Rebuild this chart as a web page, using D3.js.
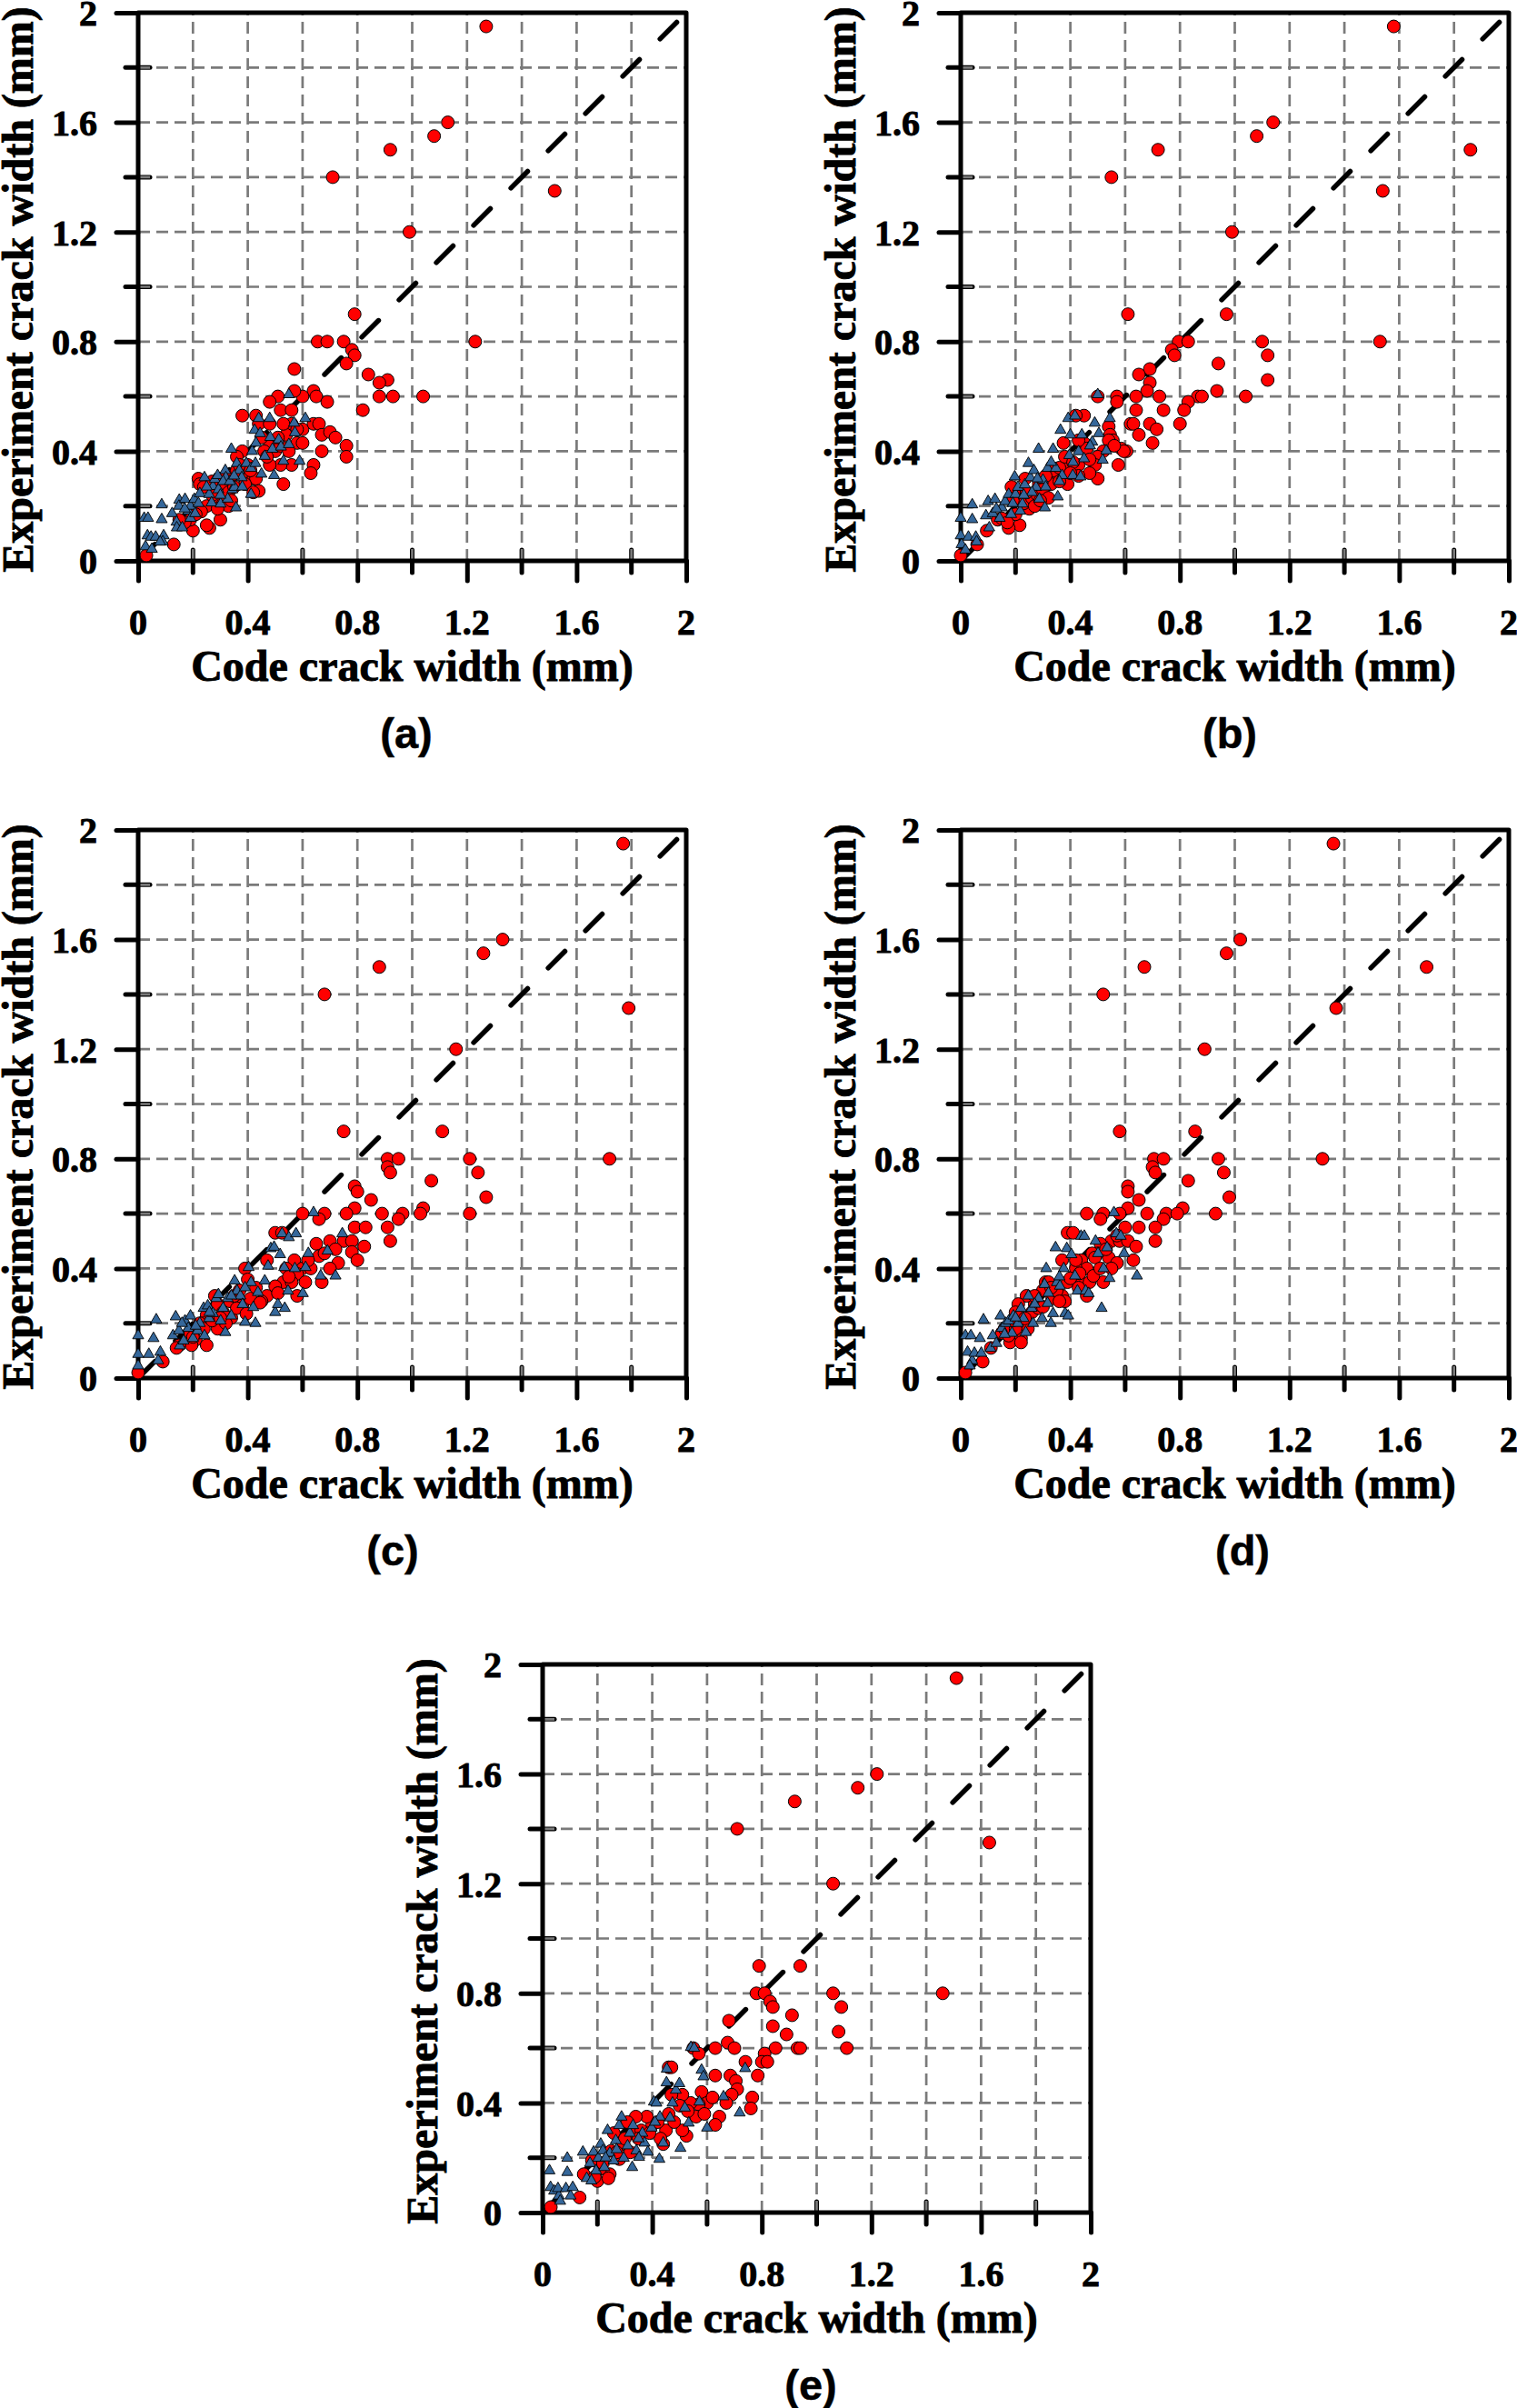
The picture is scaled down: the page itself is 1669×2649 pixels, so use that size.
<!DOCTYPE html>
<html><head><meta charset="utf-8">
<script src="https://cdn.jsdelivr.net/npm/d3@7"></script>
<style>body{margin:0;background:#fff}svg{display:block}</style>
</head><body>
<script>
// ---- data (code crack width, experiment crack width) in mm ----
const majorTicks = [0, 0.4, 0.8, 1.2, 1.6, 2];
const minorTicks = [0.2, 0.6, 1.0, 1.4, 1.8];
const gridValues = [0.2, 0.4, 0.6, 0.8, 1.0, 1.2, 1.4, 1.6, 1.8];
const panelLabels = ["(a)", "(b)", "(c)", "(d)", "(e)"];
const xTitle = "Code crack width (mm)";
const yTitle = "Experiment crack width (mm)";

const redA = [[1.27,1.95],[1.13,1.60],[1.08,1.55],[0.92,1.50],[0.71,1.40],[1.52,1.35],[0.99,1.20],[1.23,0.80],[0.79,0.90],
[0.655,0.80],[0.69,0.80],[0.75,0.80],[0.78,0.77],[0.79,0.75],[0.76,0.72],[0.57,0.70],[0.84,0.68],[0.91,0.66],[0.88,0.65],[0.88,0.60],[0.93,0.60],[1.04,0.60],[0.82,0.55],[0.76,0.42],[0.76,0.38],
[0.64,0.62],[0.65,0.60],[0.69,0.58],[0.51,0.60],[0.60,0.60],[0.57,0.62],[0.48,0.58],[0.52,0.55],[0.56,0.55],[0.38,0.53],[0.43,0.53],[0.44,0.50],[0.48,0.50],[0.56,0.50],[0.60,0.48],[0.64,0.50],[0.66,0.50],[0.67,0.46],[0.70,0.47],[0.72,0.45],[0.58,0.43],[0.60,0.43],[0.67,0.40],[0.64,0.35],[0.63,0.32],[0.56,0.35],[0.53,0.28],[0.52,0.35],[0.48,0.35],[0.48,0.42],[0.38,0.40],[0.38,0.31],[0.42,0.30],[0.43,0.30],[0.39,0.28],[0.44,0.255],[0.36,0.38],[0.34,0.31],[0.29,0.26],[0.30,0.15],[0.26,0.12],[0.25,0.13],[0.20,0.11],[0.22,0.30],[0.225,0.28],[0.13,0.06],[0.03,0.02],
[0.30,0.30],[0.32,0.28],[0.28,0.22],[0.25,0.20],[0.27,0.24],[0.33,0.25],[0.35,0.27],[0.31,0.21],[0.23,0.18],[0.19,0.15],[0.17,0.14],[0.15,0.15],[0.21,0.17],[0.36,0.33],[0.40,0.35],[0.46,0.40],[0.50,0.40],[0.52,0.42],[0.45,0.45],[0.54,0.46],[0.55,0.40],[0.42,0.25],[0.33,0.20],
[0.24,0.27],[0.27,0.29],[0.29,0.19],[0.34,0.22],[0.37,0.35],[0.41,0.33],[0.47,0.38],[0.51,0.45],[0.53,0.50],[0.58,0.48]];

const blueA = [[0.022,0.156],[0.036,0.156],[0.034,0.092],[0.047,0.087],[0.027,0.052],[0.05,0.043],[0.064,0.087],[0.086,0.205],[0.086,0.151],[0.093,0.092],[0.09,0.07],[0.08,0.069],[0.124,0.173],[0.14,0.142],[0.15,0.222],[0.149,0.2],[0.171,0.225],[0.141,0.121],[0.161,0.121],[0.183,0.182],[0.191,0.2],[0.191,0.156],[0.205,0.225],[0.208,0.173],[0.225,0.246],[0.242,0.304],[0.259,0.243],[0.268,0.212],[0.273,0.272],[0.28,0.298],[0.293,0.26],[0.301,0.208],[0.318,0.33],[0.32,0.304],[0.327,0.226],[0.34,0.408],[0.344,0.26],[0.352,0.269],[0.357,0.194],[0.36,0.356],[0.369,0.33],[0.378,0.304],[0.395,0.356],[0.412,0.243],[0.412,0.338],[0.416,0.4],[0.425,0.477],[0.428,0.356],[0.44,0.52],[0.445,0.465],[0.45,0.317],[0.462,0.382],[0.48,0.52],[0.482,0.451],[0.49,0.408],[0.496,0.312],[0.513,0.442],[0.521,0.416],[0.53,0.364],[0.55,0.607],[0.55,0.425],[0.569,0.503],[0.572,0.468],[0.589,0.364],[0.61,0.52],[0.29,0.312],[0.31,0.29],[0.335,0.29],
[0.17,0.19],[0.22,0.21],[0.25,0.27],[0.3,0.24],[0.35,0.31],[0.38,0.27],[0.43,0.43]];

const redB = [[1.58,1.95],[1.14,1.60],[1.08,1.55],[0.72,1.50],[1.86,1.50],[0.55,1.40],[1.54,1.35],[0.99,1.20],[0.61,0.90],[0.97,0.90],[1.53,0.80],[1.10,0.80],[0.795,0.80],[0.83,0.80],[0.77,0.77],[0.78,0.75],[1.12,0.75],[0.94,0.72],[0.69,0.70],[0.65,0.68],[0.69,0.65],[1.12,0.66],[0.68,0.62],[0.935,0.62],[0.64,0.60],[0.725,0.60],[0.57,0.60],[0.50,0.60],[1.04,0.60],[0.865,0.60],[0.88,0.60],[0.83,0.58],[0.57,0.58],[0.64,0.55],[0.74,0.55],[0.815,0.55],[0.62,0.50],[0.63,0.50],[0.69,0.50],[0.80,0.50],[0.715,0.48],[0.65,0.46],[0.70,0.43],[0.54,0.49],[0.545,0.46],[0.555,0.44],[0.54,0.44],[0.585,0.41],[0.605,0.40],[0.595,0.40],[0.575,0.35],[0.56,0.42],[0.52,0.40],[0.50,0.38],[0.49,0.35],[0.50,0.30],[0.45,0.53],[0.42,0.53],[0.45,0.43],[0.46,0.41],[0.43,0.35],[0.39,0.35],[0.47,0.32],[0.43,0.31],[0.39,0.28],[0.375,0.43],[0.34,0.29],[0.325,0.31],[0.285,0.28],[0.235,0.30],[0.25,0.19],[0.215,0.13],[0.175,0.12],[0.185,0.27],[0.095,0.11],[0.06,0.06],[0.0,0.02],[0.135,0.15],[0.15,0.155],
[0.21,0.24],[0.23,0.21],[0.26,0.23],[0.28,0.24],[0.30,0.26],[0.33,0.28],[0.34,0.33],[0.36,0.34],[0.20,0.17],[0.17,0.14],[0.32,0.23],[0.38,0.38],[0.41,0.36],[0.43,0.44],[0.27,0.20],[0.31,0.31],
[0.19,0.22],[0.24,0.25],[0.29,0.22],[0.36,0.29],[0.40,0.32],[0.47,0.37]];

const blueB = [[0.0,0.156],[0.0,0.092],[0.003,0.06],[0.017,0.04],[0.028,0.087],[0.042,0.205],[0.042,0.151],[0.055,0.087],[0.058,0.07],[0.092,0.165],[0.1,0.217],[0.104,0.121],[0.125,0.225],[0.117,0.173],[0.142,0.156],[0.15,0.194],[0.162,0.217],[0.175,0.243],[0.184,0.17],[0.197,0.307],[0.2,0.243],[0.209,0.269],[0.217,0.182],[0.225,0.208],[0.234,0.278],[0.247,0.356],[0.254,0.304],[0.267,0.33],[0.275,0.269],[0.284,0.408],[0.287,0.226],[0.3,0.295],[0.307,0.194],[0.317,0.338],[0.337,0.408],[0.347,0.338],[0.354,0.234],[0.364,0.477],[0.37,0.312],[0.392,0.52],[0.396,0.385],[0.4,0.46],[0.409,0.312],[0.417,0.529],[0.43,0.399],[0.437,0.307],[0.442,0.46],[0.45,0.373],[0.48,0.434],[0.489,0.503],[0.5,0.607],[0.504,0.465],[0.518,0.368],[0.531,0.402],[0.544,0.52],[0.472,0.42],[0.26,0.25],[0.31,0.27],
[0.13,0.19],[0.19,0.21],[0.23,0.24],[0.28,0.3],[0.33,0.36],[0.36,0.29],[0.41,0.36]];

const redC = [[1.77,1.95],[1.33,1.60],[1.26,1.55],[0.88,1.50],[0.68,1.40],[1.79,1.35],[1.16,1.20],[0.75,0.90],[1.11,0.90],[1.72,0.80],[1.21,0.80],[0.91,0.80],[0.95,0.80],[0.91,0.77],[0.92,0.75],[1.24,0.75],[1.07,0.72],[0.79,0.70],[0.80,0.68],[0.85,0.65],[1.27,0.66],[1.04,0.62],[1.03,0.60],[0.79,0.62],[0.76,0.60],[0.89,0.60],[0.965,0.60],[0.95,0.58],[1.21,0.60],[0.60,0.60],[0.68,0.60],[0.66,0.58],[0.79,0.55],[0.83,0.55],[0.91,0.55],[0.92,0.50],[0.70,0.50],[0.75,0.50],[0.78,0.50],[0.78,0.46],[0.825,0.48],[0.80,0.43],[0.73,0.42],[0.65,0.49],[0.50,0.53],[0.525,0.53],[0.47,0.43],[0.57,0.43],[0.60,0.40],[0.54,0.40],[0.58,0.38],[0.63,0.40],[0.67,0.35],[0.70,0.40],[0.66,0.445],[0.68,0.455],[0.53,0.35],[0.56,0.35],[0.61,0.35],[0.58,0.30],[0.47,0.30],[0.50,0.335],[0.45,0.28],[0.39,0.40],[0.40,0.36],[0.38,0.265],[0.41,0.29],[0.335,0.28],[0.28,0.30],[0.29,0.27],[0.25,0.23],[0.24,0.20],[0.21,0.14],[0.195,0.12],[0.25,0.12],[0.15,0.12],[0.14,0.11],[0.09,0.06],[0.0,0.02],[0.34,0.22],[0.29,0.18],[0.19,0.165],[0.225,0.20],
[0.24,0.18],[0.27,0.21],[0.31,0.24],[0.36,0.255],[0.395,0.235],[0.445,0.275],[0.51,0.31],[0.20,0.15],[0.32,0.20],[0.35,0.30],
[0.43,0.33],[0.55,0.37],[0.62,0.43],[0.72,0.47],[0.37,0.32],[0.30,0.22]];

const blueC = [[0.0,0.155],[0.0,0.087],[0.0,0.045],[0.039,0.087],[0.056,0.145],[0.066,0.213],[0.081,0.095],[0.073,0.064],[0.127,0.155],[0.137,0.224],[0.149,0.173],[0.152,0.118],[0.166,0.136],[0.171,0.209],[0.183,0.182],[0.191,0.227],[0.2,0.145],[0.217,0.173],[0.225,0.2],[0.239,0.255],[0.242,0.155],[0.254,0.264],[0.259,0.218],[0.273,0.236],[0.285,0.291],[0.293,0.305],[0.301,0.209],[0.31,0.255],[0.318,0.167],[0.327,0.291],[0.34,0.227],[0.352,0.355],[0.361,0.318],[0.373,0.3],[0.381,0.269],[0.39,0.204],[0.403,0.404],[0.412,0.349],[0.42,0.258],[0.428,0.2],[0.437,0.313],[0.462,0.355],[0.474,0.409],[0.484,0.473],[0.496,0.478],[0.5,0.24],[0.51,0.269],[0.518,0.451],[0.525,0.527],[0.533,0.404],[0.535,0.255],[0.547,0.318],[0.55,0.513],[0.572,0.4],[0.576,0.527],[0.601,0.309],[0.611,0.404],[0.621,0.455],[0.64,0.604],[0.666,0.373],[0.691,0.464],[0.72,0.373],[0.745,0.527],
[0.16,0.2],[0.21,0.19],[0.26,0.24],[0.34,0.3],[0.39,0.33]];

const redD = [[1.36,1.95],[1.02,1.60],[0.97,1.55],[0.67,1.50],[1.70,1.50],[0.52,1.40],[1.37,1.35],[0.89,1.20],[0.58,0.90],[0.855,0.90],[1.32,0.80],[0.94,0.80],[0.705,0.80],[0.74,0.80],[0.70,0.77],[0.71,0.75],[0.96,0.75],[0.83,0.72],[0.61,0.70],[0.61,0.68],[0.65,0.65],[0.98,0.66],[0.81,0.62],[0.61,0.62],[0.93,0.60],[0.46,0.60],[0.52,0.60],[0.58,0.60],[0.68,0.60],[0.75,0.60],[0.79,0.60],[0.74,0.58],[0.51,0.58],[0.60,0.55],[0.65,0.55],[0.71,0.55],[0.39,0.53],[0.41,0.53],[0.55,0.50],[0.58,0.50],[0.61,0.50],[0.71,0.50],[0.64,0.48],[0.63,0.43],[0.51,0.49],[0.50,0.455],[0.54,0.44],[0.57,0.42],[0.55,0.40],[0.52,0.35],[0.44,0.43],[0.48,0.455],[0.49,0.44],[0.46,0.40],[0.42,0.40],[0.42,0.43],[0.44,0.35],[0.47,0.35],[0.46,0.30],[0.39,0.35],[0.37,0.43],[0.37,0.30],[0.38,0.28],[0.31,0.35],[0.32,0.35],[0.30,0.32],[0.27,0.27],[0.26,0.24],[0.24,0.30],[0.21,0.27],[0.20,0.24],[0.22,0.145],[0.18,0.13],[0.22,0.13],[0.15,0.165],[0.11,0.11],[0.08,0.06],[0.017,0.02],[0.245,0.18],[0.175,0.155],[0.16,0.18],
[0.234,0.218],[0.284,0.255],[0.334,0.291],[0.35,0.318],[0.40,0.364],[0.434,0.382],[0.484,0.373],[0.509,0.40],[0.20,0.18],[0.30,0.26],[0.36,0.28],
[0.19,0.21],[0.27,0.30],[0.33,0.33],[0.43,0.33],[0.53,0.47],[0.57,0.52]];

const blueD = [[0.017,0.155],[0.037,0.155],[0.025,0.095],[0.042,0.064],[0.033,0.045],[0.05,0.091],[0.07,0.145],[0.083,0.213],[0.075,0.091],[0.109,0.109],[0.117,0.155],[0.13,0.127],[0.145,0.227],[0.15,0.182],[0.164,0.2],[0.175,0.209],[0.187,0.164],[0.192,0.227],[0.209,0.2],[0.22,0.255],[0.229,0.218],[0.237,0.167],[0.247,0.3],[0.259,0.255],[0.264,0.2],[0.284,0.291],[0.297,0.218],[0.306,0.342],[0.312,0.4],[0.317,0.273],[0.329,0.2],[0.337,0.236],[0.346,0.476],[0.351,0.349],[0.362,0.336],[0.376,0.4],[0.381,0.236],[0.387,0.473],[0.392,0.227],[0.404,0.451],[0.417,0.373],[0.426,0.318],[0.439,0.518],[0.451,0.518],[0.456,0.318],[0.467,0.309],[0.492,0.5],[0.501,0.455],[0.514,0.255],[0.521,0.4],[0.534,0.476],[0.543,0.364],[0.559,0.604],[0.568,0.527],[0.584,0.518],[0.596,0.455],[0.643,0.373],
[0.16,0.16],[0.2,0.22],[0.27,0.27],[0.32,0.31],[0.36,0.37]];

const redE = [[1.51,1.95],[1.22,1.60],[1.15,1.55],[0.92,1.50],[0.71,1.40],[1.63,1.35],[1.06,1.20],[0.79,0.90],[0.94,0.90],[1.46,0.80],[1.06,0.80],[0.78,0.80],[0.81,0.80],[0.83,0.77],[0.84,0.75],[1.09,0.75],[0.91,0.72],[0.68,0.70],[0.84,0.68],[0.89,0.65],[1.08,0.66],[0.675,0.62],[0.70,0.60],[0.63,0.60],[0.85,0.60],[0.93,0.60],[0.94,0.60],[1.11,0.60],[0.55,0.60],[0.57,0.58],[0.81,0.58],[0.74,0.55],[0.80,0.55],[0.82,0.55],[0.46,0.53],[0.47,0.53],[0.63,0.50],[0.685,0.50],[0.785,0.50],[0.705,0.48],[0.71,0.45],[0.69,0.43],[0.58,0.44],[0.60,0.40],[0.67,0.40],[0.765,0.42],[0.76,0.38],[0.62,0.42],[0.57,0.395],[0.54,0.40],[0.51,0.43],[0.50,0.39],[0.645,0.35],[0.63,0.32],[0.56,0.35],[0.525,0.28],[0.51,0.30],[0.45,0.30],[0.44,0.25],[0.40,0.32],[0.38,0.35],[0.34,0.35],[0.31,0.33],[0.33,0.29],[0.29,0.25],[0.26,0.29],[0.28,0.195],[0.245,0.14],[0.20,0.115],[0.24,0.125],[0.15,0.14],[0.135,0.055],[0.03,0.02],[0.21,0.16],[0.18,0.19],[0.25,0.225],[0.43,0.27],[0.48,0.33],[0.47,0.43],
[0.30,0.27],[0.36,0.30],[0.42,0.33],[0.27,0.22],[0.22,0.18],[0.35,0.27],[0.32,0.22],
[0.19,0.13],[0.39,0.29],[0.46,0.36],[0.53,0.37],[0.59,0.36]];

const blueE = [[0.025,0.153],[0.029,0.092],[0.042,0.079],[0.059,0.061],[0.064,0.042],[0.056,0.088],[0.09,0.199],[0.09,0.147],[0.085,0.088],[0.102,0.061],[0.11,0.092],[0.147,0.221],[0.161,0.125],[0.173,0.18],[0.178,0.116],[0.186,0.221],[0.195,0.153],[0.203,0.199],[0.212,0.25],[0.22,0.226],[0.225,0.165],[0.237,0.3],[0.245,0.217],[0.259,0.189],[0.267,0.263],[0.279,0.318],[0.288,0.349],[0.296,0.199],[0.31,0.244],[0.318,0.29],[0.327,0.165],[0.33,0.318],[0.342,0.226],[0.352,0.202],[0.364,0.29],[0.372,0.254],[0.384,0.221],[0.398,0.309],[0.406,0.404],[0.415,0.4],[0.426,0.195],[0.428,0.349],[0.44,0.254],[0.452,0.474],[0.453,0.524],[0.465,0.346],[0.474,0.4],[0.486,0.447],[0.499,0.471],[0.503,0.235],[0.519,0.382],[0.533,0.327],[0.541,0.603],[0.553,0.6],[0.572,0.404],[0.58,0.52],[0.587,0.496],[0.6,0.309],[0.66,0.423],[0.719,0.364],[0.739,0.526],
[0.23,0.2],[0.27,0.23],[0.35,0.27],[0.41,0.33]];

// ---- layout ----
const S = 603;
const panels = [
  {left:152, top:14,   red:redA, blue:blueA, label:panelLabels[0], lx:295},
  {left:1057,top:14,   red:redB, blue:blueB, label:panelLabels[1], lx:296},
  {left:152, top:913,  red:redC, blue:blueC, label:panelLabels[2], lx:280},
  {left:1057,top:913,  red:redD, blue:blueD, label:panelLabels[3], lx:310},
  {left:597, top:1831, red:redE, blue:blueE, label:panelLabels[4], lx:295}
];

const svg = d3.select("body").append("svg").attr("width",1669).attr("height",2649)
  .style("background","#fff");
const serif = "'Liberation Serif','Times New Roman',serif";
const sans = "'Liberation Sans',Arial,sans-serif";

function boldText(sel, family, size) {
  return sel.attr("fill","#000").attr("stroke","#000").attr("stroke-width",0.9)
    .attr("paint-order","stroke")
    .style("font-family",family).style("font-weight","700").style("font-size",size+"px");
}

panels.forEach(p => {
  const g = svg.append("g").attr("transform",`translate(${p.left},${p.top})`);
  const x = d3.scaleLinear().domain([0,2]).range([0,S]);
  const y = d3.scaleLinear().domain([0,2]).range([S,0]);

  // minor ticks
  g.append("g").selectAll("line").data(minorTicks).join("line")
    .attr("x1",d=>x(d)).attr("x2",d=>x(d)).attr("y1",S-12).attr("y2",S+13)
    .attr("stroke","#000").attr("stroke-width",5).attr("stroke-linecap","round");
  g.append("g").selectAll("line").data(minorTicks).join("line")
    .attr("y1",d=>y(d)).attr("y2",d=>y(d)).attr("x1",-14).attr("x2",13)
    .attr("stroke","#000").attr("stroke-width",5).attr("stroke-linecap","round");

  // major ticks via axes (labels drawn separately)
  const xa = g.append("g").attr("transform",`translate(0,${S})`)
    .call(d3.axisBottom(x).tickValues(majorTicks).tickSize(22).tickFormat(""));
  const ya = g.append("g")
    .call(d3.axisLeft(y).tickValues(majorTicks).tickSize(24).tickFormat(""));
  [xa,ya].forEach(a=>{
    a.select(".domain").remove();
    a.selectAll(".tick text").remove();
    a.selectAll(".tick line").attr("stroke","#000").attr("stroke-width",5).attr("stroke-linecap","round");
  });

  // tick labels
  boldText(g.append("g").selectAll("text").data(majorTicks).join("text")
    .attr("x",d=>x(d)).attr("y",S+81).attr("text-anchor","middle").text(d=>String(d)), serif, 40);
  boldText(g.append("g").selectAll("text").data(majorTicks).join("text")
    .attr("x",-45).attr("y",d=>y(d)).attr("dy","0.36em").attr("text-anchor","end").text(d=>String(d)), serif, 40);

  // gridlines
  const grid = g.append("g").attr("stroke","#7a7a7a").attr("stroke-width",2.7)
    .attr("stroke-dasharray","13,7");
  grid.selectAll(".v").data(gridValues).join("line").attr("class","v")
    .attr("x1",d=>x(d)).attr("x2",d=>x(d)).attr("y1",S).attr("y2",0);
  grid.selectAll(".h").data(gridValues).join("line").attr("class","h")
    .attr("y1",d=>y(d)).attr("y2",d=>y(d)).attr("x1",0).attr("x2",S);

  // frame
  g.append("rect").attr("x",0).attr("y",0).attr("width",S).attr("height",S)
    .attr("fill","none").attr("stroke","#000").attr("stroke-width",5).attr("stroke-linejoin","round");

  // 1:1 line
  g.append("line").attr("x1",x(0)).attr("y1",y(0)).attr("x2",x(2)).attr("y2",y(2))
    .attr("stroke","#000").attr("stroke-width",5.5).attr("stroke-dasharray","26,32")
    .attr("stroke-linecap","round");

  // points
  g.append("g").selectAll("circle").data(p.red).join("circle")
    .attr("cx",d=>x(d[0])).attr("cy",d=>y(d[1])).attr("r",7)
    .attr("fill","#ff0000").attr("stroke","#000").attr("stroke-width",1);
  const tri = d3.symbol().type(d3.symbolTriangle).size(64);
  g.append("g").selectAll("path").data(p.blue).join("path")
    .attr("transform",d=>`translate(${x(d[0])},${y(d[1])})`).attr("d",tri)
    .attr("fill","#35679a").attr("stroke","#000").attr("stroke-width",0.9);

  // titles
  boldText(g.append("text").attr("x",S/2).attr("y",S+132).attr("text-anchor","middle").text(xTitle), serif, 48);
  boldText(g.append("text").attr("transform",`translate(-116,${S/2+3}) rotate(-90)`)
    .attr("text-anchor","middle").text(yTitle), serif, 48);
  boldText(g.append("text").attr("x",p.lx).attr("y",S+206).attr("text-anchor","middle").text(p.label), sans, 47)
    .attr("stroke-width",0.5);
});
</script>
</body></html>
